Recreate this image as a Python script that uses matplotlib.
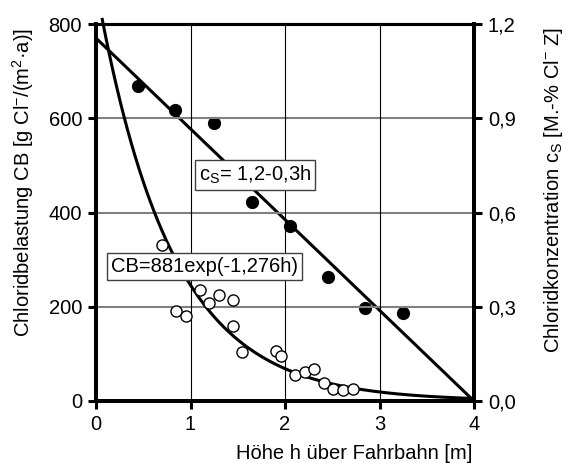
import numpy as np
import matplotlib
matplotlib.use("Agg")
import matplotlib.pyplot as plt

plt.rcParams['font.family'] = ['Liberation Sans', 'DejaVu Sans']
plt.rcParams['mathtext.fontset'] = 'custom'
plt.rcParams['mathtext.rm'] = 'Liberation Sans'
plt.rcParams['mathtext.it'] = 'Liberation Sans'
plt.rcParams['mathtext.default'] = 'regular'

# Chloride load CB (open circles, left axis)
cb_h = [0.70, 0.85, 0.95, 1.10, 1.20, 1.30, 1.45, 1.45, 1.55, 1.91, 1.96,
        2.11, 2.21, 2.31, 2.41, 2.51, 2.61, 2.72]
cb_val = [331, 191, 180, 235, 209, 225, 214, 160, 105, 106, 96,
          56, 61, 68, 38, 26, 23, 26]

# Chloride concentration cS (filled circles, right axis)
cs_h = [0.44, 0.84, 1.25, 1.65, 2.05, 2.45, 2.85, 3.25]
cs_val = [1.004, 0.926, 0.884, 0.634, 0.558, 0.396, 0.295, 0.281]

# Linear regression line for cS
fit_h = [0.0, 4.0]
fit_cs = [1.155, 0.0]

# Exponential fit parameters for CB
exp_a = 881
exp_b = -1.276

x_ticks = [0, 1, 2, 3, 4]
left_ticks = [0, 200, 400, 600, 800]
right_ticks = [0.0, 0.3, 0.6, 0.9, 1.2]
right_labels = ['0,0', '0,3', '0,6', '0,9', '1,2']

FS = 14.5

fig = plt.figure(figsize=(5.71, 4.71), dpi=100)
ax = fig.add_axes([96 / 571, 1 - 401 / 471, 378 / 571, 377 / 471])
ax2 = ax.twinx()

ax.set_xlim(0, 4)
ax.set_ylim(0, 800)
ax2.set_ylim(0, 1.2)

# grid: grey horizontals, thin black verticals
for y in left_ticks[1:-1]:
    ax.axhline(y, color='#808080', lw=1.5, zorder=1)
for x in x_ticks[1:-1]:
    ax.axvline(x, color='black', lw=0.8, zorder=1)

# exponential curve
hh = np.linspace(0.063, 4.0, 300)
ax.plot(hh, exp_a * np.exp(exp_b * hh), color='black', lw=2.2, zorder=3,
        clip_on=False, solid_capstyle='butt')
ax.plot(cb_h, cb_val, 'o', ms=8, mfc='white', mec='black', mew=1.0, zorder=4)

# linear fit and concentration points
ax2.plot(fit_h, fit_cs, color='black', lw=2.2, zorder=3, solid_capstyle='butt')
ax2.plot(cs_h, cs_val, 'o', ms=8.5, color='black', zorder=4)

ax.set_xticks(x_ticks)
ax.set_xticklabels([str(v) for v in x_ticks])
ax.set_yticks(left_ticks)
ax.set_yticklabels([str(v) for v in left_ticks])
ax2.set_yticks(right_ticks)
ax2.set_yticklabels(right_labels)

for a in (ax, ax2):
    for s in a.spines.values():
        s.set_linewidth(2.8)
    a.spines['top'].set_linewidth(2.2)
ax.tick_params(axis='both', direction='out', length=6, width=2.2,
               labelsize=FS, pad=4)
ax2.tick_params(axis='y', direction='out', length=6, width=2.2,
                labelsize=FS, pad=4)

ax.set_xlabel('Höhe h über Fahrbahn [m]', fontsize=FS, labelpad=7,
              x=0.995, ha='right')
ax.set_ylabel('Chloridbelastung CB [g Cl$^{-}$/(m$^{2}$·a)]', fontsize=FS,
              labelpad=9, y=0.58)
ax2.set_ylabel('Chloridkonzentration c$_{S}$ [M.-% Cl$^{-}$ Z]', fontsize=FS,
               labelpad=19, y=0.56)

box = dict(boxstyle='square,pad=0.2', fc='white', ec='#404040', lw=1.0)
ax.text(1.09, 480, 'c$_{S}$= 1,2-0,3h', fontsize=FS, va='center', ha='left',
        bbox=box, zorder=6)
ax.text(0.16, 285, 'CB=881exp(-1,276h)', fontsize=FS, va='center', ha='left',
        bbox=box, zorder=6)

ax.set_zorder(ax2.get_zorder() + 1)
ax.patch.set_visible(False)

fig.savefig('out.png', dpi=100)
